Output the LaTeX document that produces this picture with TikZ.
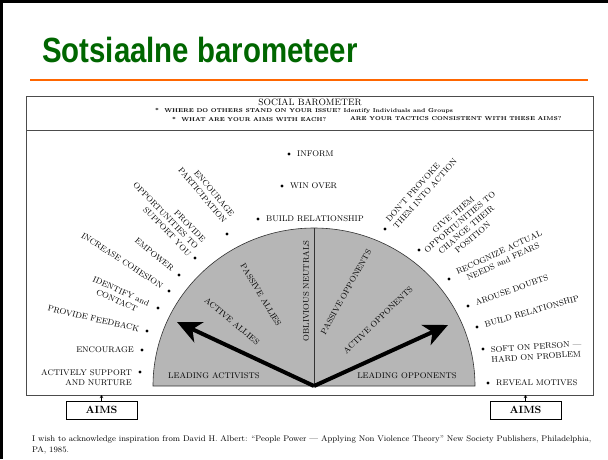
\documentclass[tikz,border=0pt]{standalone}
\usepackage{fontspec}
\usetikzlibrary{arrows.meta,positioning}

\newfontfamily\titlefont[FakeStretch=0.84]{Liberation Sans}
\definecolor{titlegreen}{RGB}{0,102,0}
\definecolor{ruleorange}{RGB}{255,102,0}
\definecolor{scangray}{RGB}{182,182,182}

\tikzset{
  lbl/.style={font=\fontsize{8.2}{10}\selectfont, inner sep=0pt},
  zone/.style={font=\fontsize{8.2}{10}\selectfont, inner sep=0pt},
  pt/.style={circle, fill=black, inner sep=0pt, minimum size=3.4pt},
  aimsbox/.style={draw, line width=0.7pt, minimum width=71pt, minimum height=18pt,
    inner sep=0pt, font=\bfseries\fontsize{10.5}{12}\selectfont},
  bigarrow/.style={line width=4pt, -{Stealth[length=24pt,width=22pt,inset=7pt]}}
}

\begin{document}
\begin{tikzpicture}[x=1pt,y=-1pt]
\useasboundingbox (0,0) rectangle (608,459);

% slide frame and title
\draw[line width=3pt] (1.5,459) -- (1.5,1.5) -- (608,1.5);
\node[anchor=base west, inner sep=0pt, text=titlegreen,
  font=\titlefont\bfseries\fontsize{35}{40}\selectfont] (title) at (42,62) {Sotsiaalne barometeer};
\draw[ruleorange, line width=2pt] (30,80) -- (588,80);

% the barometer sheet
\draw[black!70, line width=0.6pt] (26,96) rectangle (593,395);
\draw[black!70, line width=0.6pt] (26,130) -- (593,130);
\node[font=\fontsize{9.3}{11}\selectfont, inner sep=0pt] (head) at (310,102) {SOCIAL BAROMETER};
\node[anchor=west, inner sep=0pt, font=\bfseries\fontsize{5.6}{7}\selectfont] (qone) at (155,111)
  {*\ \ WHERE DO OTHERS STAND ON YOUR ISSUE? Identify Individuals and Groups};
\node[anchor=west, inner sep=0pt, font=\bfseries\fontsize{5.6}{7}\selectfont] (qtwo) at (172,119)
  {*\ \ WHAT ARE YOUR AIMS WITH EACH?};
\node[anchor=west, inner sep=0pt, font=\bfseries\fontsize{5.6}{7}\selectfont] (qthree) at (350,119)
  {ARE YOUR TACTICS CONSISTENT WITH THESE AIMS?};

% half dial
\coordinate (ctr) at (314,386);
\coordinate (top) at (314,228);
\filldraw[fill=scangray, draw=black!80, line width=0.6pt]
  (153,386) arc[start angle=180, end angle=360, x radius=161, y radius=158] -- cycle;
\draw[black!80, line width=0.5pt] (ctr) -- (top);

\node[zone, rotate=90] (neutrals) at (306,291) {OBLIVIOUS NEUTRALS};
\node[zone, rotate=-59] (pallies) at (261,295) {PASSIVE ALLIES};
\node[zone, rotate=-40] (aallies) at (232,321) {ACTIVE ALLIES};
\node[zone, rotate=61] (popp) at (346,292) {PASSIVE OPPONENTS};
\node[zone, rotate=44] (aopp) at (378,320) {ACTIVE OPPONENTS};
\node[zone] (lact) at (214,376) {LEADING ACTIVISTS};
\node[zone] (lopp) at (407,376) {LEADING OPPONENTS};

\coordinate (tipL) at (177,322);
\coordinate (tipR) at (448,325);
\draw[bigarrow] (ctr) -- (tipL);
\draw[bigarrow] (ctr) -- (tipR);

% aims, left side
\foreach \nm/\px/\py/\ang/\txt in {
    encpart/227/234/0/{}, provide/195/258/0/{}, identify/158/308/0/{},
    empower/179/275/-40/{EMPOWER},
    cohesion/169/291/-33/{INCREASE COHESION},
    feedback/147/331/-13/{PROVIDE FEEDBACK},
    encourage/142/350/0/{ENCOURAGE}}{%
  \node[pt] (d-\nm) at (\px,\py) {};
  \node[lbl, anchor=east, rotate=\ang, xshift=-8pt] (t-\nm) at (d-\nm) {\txt};
}
\node[lbl, align=right, anchor=east, rotate=-50] (m-encpart) at (229,219) {ENCOURAGE\\PARTICIPATION};
\node[lbl, align=right, anchor=east, rotate=-46] (m-provide) at (197,248) {PROVIDE\\OPPORTUNITIES TO\\SUPPORT YOU};
\node[lbl, align=center, rotate=-24] (m-identify) at (119,296) {IDENTIFY and\\CONTACT};
\node[pt] (d-support) at (140,372) {};
\node[lbl, align=right, anchor=north east] (t-support) at (132,369) {ACTIVELY SUPPORT\\AND NURTURE};

% aims, top
\foreach \nm/\px/\py/\txt in {inform/289/154/INFORM, winover/282/186/WIN OVER, buildtop/258/219/BUILD RELATIONSHIP}{%
  \node[pt] (d-\nm) at (\px,\py) {};
  \node[lbl, anchor=west, xshift=8pt] (t-\nm) at (d-\nm) {\txt};
}

% aims, right side
\foreach \nm/\px/\py/\ang/\txt in {
    provoke/385/229/0/{}, givethem/419/250/0/{}, recognize/449/279/0/{}, softon/483/349/0/{},
    doubts/468/306/20/{AROUSE DOUBTS},
    buildrel/477/327/16/{BUILD RELATIONSHIP},
    motives/488/383/0/{REVEAL MOTIVES}}{%
  \node[pt] (d-\nm) at (\px,\py) {};
  \node[lbl, anchor=west, rotate=\ang, xshift=8pt] (t-\nm) at (d-\nm) {\txt};
}
\node[lbl, align=left, anchor=west, rotate=48] (m-provoke) at (391,224) {DON'T PROVOKE\\THEM INTO ACTION};
\node[lbl, align=center, rotate=40] (m-givethem) at (463,226) {GIVE THEM\\OPPORTUNITIES TO\\CHANGE THEIR\\POSITION};
\node[lbl, align=center, rotate=25] (m-recognize) at (501,257) {RECOGNIZE ACTUAL\\NEEDS and FEARS};
\node[lbl, align=left, anchor=west, rotate=4] (m-softon) at (491,355) {SOFT ON PERSON ---\\HARD ON PROBLEM};

% aims boxes
\node[aimsbox] (aimsL) at (101.5,410) {AIMS};
\node[aimsbox] (aimsR) at (525.5,410) {AIMS};
\coordinate (baseL) at (101.5,395);
\coordinate (baseR) at (525.5,395);
\draw[line width=0.6pt, -{Stealth[length=3pt,width=3.5pt]}] (aimsL) -- (baseL);
\draw[line width=0.6pt, -{Stealth[length=3pt,width=3.5pt]}] (aimsR) -- (baseR);

% source note
\node[anchor=north west, align=left, inner sep=0pt, font=\fontsize{8.2}{11.5}\selectfont] (note) at (32,435)
  {I wish to acknowledge inspiration from David H. Albert: ``People Power --- Applying Non Violence Theory'' New Society Publishers, Philadelphia,\\PA, 1985.};
\end{tikzpicture}
\end{document}
